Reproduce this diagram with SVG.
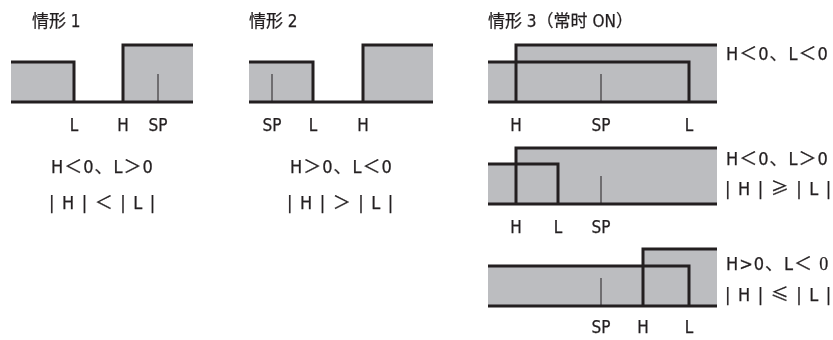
<svg xmlns="http://www.w3.org/2000/svg" width="833" height="340" viewBox="0 0 833 340">
<defs>
<filter id="nf" x="-5%" y="-20%" width="110%" height="140%"><feOffset dx="0" dy="0"/></filter>
</defs>
<style>
.fill{fill:#bcbdc0;stroke:none}
.ln{fill:none;stroke:#231f20;stroke-width:3;stroke-linejoin:miter;stroke-linecap:butt}
.tk{fill:none;stroke:#231f20;stroke-width:1}
text{font-family:"DejaVu Sans","Noto Sans CJK SC",sans-serif;font-stretch:condensed;font-size:17px;fill:#231f20;stroke:#231f20;stroke-width:0.25;filter:url(#nf)}
.cjk{font-family:"Noto Sans CJK SC",sans-serif}
.lb{text-anchor:middle}
.cond{font-size:18px;letter-spacing:1px}
.abs{font-size:18px;white-space:pre;letter-spacing:1.2px}
</style>
<rect width="833" height="340" fill="#fff"/>
<g id="case1">
<text x="32" y="27"><tspan class="cjk">情形</tspan> 1</text>
<rect class="fill" x="11" y="62" width="63" height="40"/>
<rect class="fill" x="123" y="45" width="70" height="57"/>
<path class="ln" d="M11,62 H74 V102 M11,102 H193 M123,102 V45 H193"/>
<path class="tk" d="M158,74 V102"/>
<text class="lb" x="74" y="131">L</text>
<text class="lb" x="123" y="131">H</text>
<text class="lb" x="158" y="131">SP</text>
<text class="cond" x="51" y="173">H＜0、L＞0</text>
<text class="abs" x="49" y="209">| H | ＜ | L |</text>
</g>
<g id="case2">
<text x="249" y="27"><tspan class="cjk">情形</tspan> 2</text>
<rect class="fill" x="249" y="62" width="64" height="40"/>
<rect class="fill" x="363" y="45" width="70" height="57"/>
<path class="ln" d="M249,62 H313 V102 M249,102 H433 M363,102 V45 H433"/>
<path class="tk" d="M272,74 V102"/>
<text class="lb" x="272" y="131">SP</text>
<text class="lb" x="313" y="131">L</text>
<text class="lb" x="363" y="131">H</text>
<text class="cond" x="290" y="173">H＞0、L＜0</text>
<text class="abs" x="287" y="209">| H | ＞ | L |</text>
</g>
<g id="case3a">
<text x="488" y="27"><tspan class="cjk">情形</tspan> 3<tspan class="cjk">（常时</tspan> ON<tspan class="cjk">）</tspan></text>
<path class="fill" d="M488,62 H516 V45 H717 V102 H488 Z"/>
<path class="ln" d="M488,62 H689 V102 M488,102 H717 M516,102 V45 H717"/>
<path class="tk" d="M601,74 V102"/>
<text class="lb" x="516" y="131">H</text>
<text class="lb" x="601" y="131">SP</text>
<text class="lb" x="689" y="131">L</text>
<text class="cond" x="726" y="60">H＜0、L＜0</text>
</g>
<g id="case3b">
<path class="fill" d="M488,164 H516 V148 H717 V204 H488 Z"/>
<path class="ln" d="M488,164 H558 V204 M488,204 H717 M516,204 V148 H717"/>
<path class="tk" d="M601,176 V204"/>
<text class="lb" x="516" y="233">H</text>
<text class="lb" x="558" y="233">L</text>
<text class="lb" x="601" y="233">SP</text>
<text class="cond" x="726" y="165">H＜0、L＞0</text>
<text class="abs" x="725" y="195">| H | <tspan class="cjk">≥</tspan> | L |</text>
</g>
<g id="case3c">
<path class="fill" d="M488,266 H643 V249 H717 V306 H488 Z"/>
<path class="ln" d="M488,266 H689 V306 M488,306 H717 M643,306 V249 H717"/>
<path class="tk" d="M601,278 V306"/>
<text class="lb" x="601" y="333">SP</text>
<text class="lb" x="643" y="333">H</text>
<text class="lb" x="689" y="333">L</text>
<text class="cond" x="726" y="270">H&gt;0、L＜ <tspan font-family="Liberation Serif">0</tspan></text>
<text class="abs" x="725" y="301">| H | <tspan class="cjk">≤</tspan> | L |</text>
</g>
<g id="connectors"/>
</svg>
